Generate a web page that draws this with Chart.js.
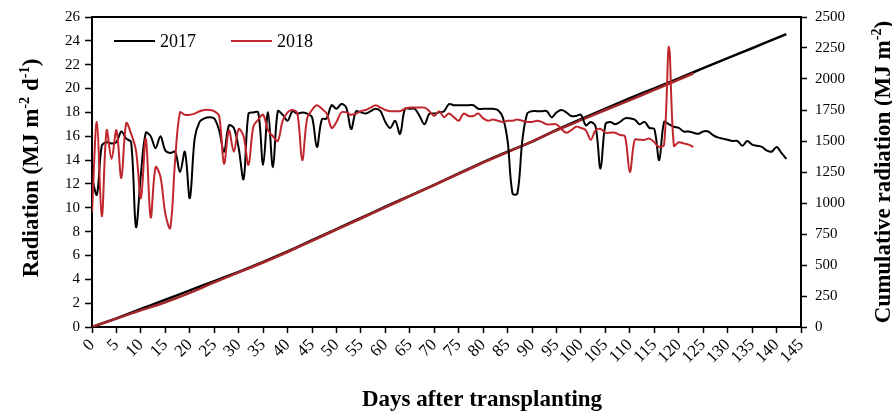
<!DOCTYPE html>
<html>
<head>
<meta charset="utf-8">
<script src="https://cdn.jsdelivr.net/npm/chart.js@4.4.1/dist/chart.umd.min.js"></script>
<style>
  html, body { margin: 0; padding: 0; background: #fff; }
</style>
</head>
<body>
<canvas id="myChart" width="892" height="411"></canvas>
<script>
// daily radiation (MJ m-2 d-1), one value per day after transplanting
const rad2017 = [
    12.5, 11.1, 15.2, 15.5, 15.4, 15.5, 16.4, 15.8, 15.5, 8.4,
    12.8, 16.3, 16.0, 15.0, 16.0, 14.8, 14.6, 14.7, 13.0, 14.7,
    10.8, 15.8, 17.2, 17.5, 17.6, 17.5, 16.5, 14.7, 16.9, 16.7,
    15.0, 12.4, 17.9, 18.0, 18.0, 13.6, 18.0, 13.4, 18.1, 17.8,
    17.3, 18.1, 17.9, 18.0, 17.9, 17.6, 15.1, 17.4, 17.5, 18.6,
    18.3, 18.7, 18.4, 16.6, 18.1, 18.0, 17.9, 18.1, 18.3, 18.1,
    17.2, 16.7, 17.3, 16.2, 18.3, 18.3, 18.3, 17.7, 17.0, 17.9,
    17.9, 18.0, 18.1, 18.7, 18.6, 18.6, 18.6, 18.6, 18.6, 18.3,
    18.3, 18.3, 18.3, 18.2, 17.6, 15.6, 11.2, 11.2, 15.6, 17.9,
    18.1, 18.1, 18.1, 18.1, 17.6, 18.0, 18.2, 18.0, 17.7, 17.7,
    17.8, 16.9, 17.2, 16.8, 13.3, 17.0, 17.2, 17.0, 17.2, 17.5,
    17.5, 17.4, 17.0, 17.2, 16.7, 16.6, 14.0, 17.2, 17.0, 16.8,
    16.7, 16.4, 16.4, 16.3, 16.2, 16.4, 16.4, 16.1, 15.9, 15.8,
    15.7, 15.6, 15.6, 15.2, 15.6, 15.3, 15.2, 15.1, 14.8, 14.7,
    15.1, 14.6, 14.1
];
const rad2018 = [
    9.6, 17.2, 9.3, 16.5, 14.1, 16.5, 12.5, 17.1, 16.2, 14.8,
    10.8, 15.8, 9.2, 13.4, 12.6, 9.5, 8.3, 14.0, 18.0, 17.8,
    17.8, 17.9, 18.1, 18.2, 18.2, 18.1, 17.7, 13.7, 16.5, 14.7,
    16.6, 16.0, 13.6, 16.8, 17.4, 17.8, 16.5, 16.0, 15.6, 17.3,
    18.0, 18.2, 17.9, 14.0, 17.5, 18.2, 18.6, 18.3, 17.9, 16.7,
    17.2, 18.0, 18.0, 17.8, 17.9, 18.1, 18.2, 18.4, 18.6, 18.4,
    18.2, 18.1, 18.1, 18.1, 18.3, 18.4, 18.4, 18.4, 18.4, 18.1,
    17.7, 18.1, 17.6, 17.9, 17.6, 17.3, 17.9, 17.7, 17.7, 17.9,
    17.5, 17.3, 17.4, 17.3, 17.2, 17.3, 17.3, 17.4, 17.3, 17.2,
    17.2, 17.3, 17.2, 17.0, 17.0, 17.0, 16.6, 16.3, 16.5, 16.8,
    16.7, 16.5, 15.7, 16.5, 16.6, 16.3, 16.3, 16.3, 16.1, 16.0,
    13.0, 15.7, 15.7, 15.7, 15.8, 15.5, 15.1, 15.3, 23.5, 15.2,
    15.5, 15.4, 15.3, 15.1
];

// cumulative radiation (MJ m-2), read at these days
const cumDays2017 = [0, 5, 10, 15, 20, 25, 30, 35, 40, 45, 50, 55, 60, 65, 70, 75, 80, 85, 90, 95, 100, 105, 110, 115, 120, 125, 130, 135, 140, 142];
const cum2017 = [0, 70, 145, 220, 295, 370, 445, 525, 610, 700, 790, 880, 970, 1058, 1147, 1238, 1330, 1415, 1495, 1590, 1677, 1760, 1845, 1925, 2005, 2088, 2168, 2248, 2330, 2362];
const cumDays2018 = [0, 5, 10, 15, 20, 25, 30, 35, 40, 45, 50, 55, 60, 65, 70, 75, 80, 85, 90, 95, 100, 105, 110, 115, 120, 123];
const cum2018 = [0, 68, 135, 200, 275, 360, 440, 520, 605, 695, 785, 875, 965, 1055, 1145, 1235, 1325, 1410, 1495, 1585, 1668, 1750, 1830, 1912, 1995, 2045];

const dayTicks = [0, 5, 10, 15, 20, 25, 30, 35, 40, 45, 50, 55, 60, 65, 70, 75, 80, 85, 90, 95, 100, 105, 110, 115, 120, 125, 130, 135, 140, 145];
const radTicks = [0, 2, 4, 6, 8, 10, 12, 14, 16, 18, 20, 22, 24, 26];
const cumTicks = [0, 250, 500, 750, 1000, 1250, 1500, 1750, 2000, 2250, 2500];

const SERIF = "'Liberation Serif', 'Times New Roman', serif";
const RED = '#c0272d';
const BLACK = '#000000';

function drawParts(ctx, parts, size, cx, baseY) {
    let w = 0;
    parts.forEach(p => {
        ctx.font = 'bold ' + (p.sup ? size * 0.62 : size) + 'px ' + SERIF;
        p.w = ctx.measureText(p.t).width;
        w += p.w;
    });
    let x = cx - w / 2;
    parts.forEach(p => {
        ctx.font = 'bold ' + (p.sup ? size * 0.62 : size) + 'px ' + SERIF;
        ctx.fillText(p.t, x, p.sup ? baseY - size * 0.4 : baseY);
        x += p.w;
    });
}

const extras = {
    id: 'extras',
    afterDraw(chart) {
        const ctx = chart.ctx;
        const a = chart.chartArea;
        ctx.save();
        // top frame line
        ctx.strokeStyle = BLACK;
        ctx.lineWidth = 2;
        ctx.beginPath();
        ctx.moveTo(a.left, a.top);
        ctx.lineTo(a.right, a.top);
        ctx.stroke();

        // legend
        ctx.lineWidth = 2;
        ctx.strokeStyle = BLACK;
        ctx.beginPath(); ctx.moveTo(114, 41); ctx.lineTo(155, 41); ctx.stroke();
        ctx.strokeStyle = RED;
        ctx.beginPath(); ctx.moveTo(231, 41); ctx.lineTo(272, 41); ctx.stroke();
        ctx.fillStyle = BLACK;
        ctx.font = '18px ' + SERIF;
        ctx.textBaseline = 'alphabetic';
        ctx.textAlign = 'left';
        ctx.fillText('2017', 160, 47);
        ctx.fillText('2018', 277, 47);

        // axis titles
        drawParts(ctx, [{t: 'Days after transplanting'}], 23, 482, 406);

        ctx.save();
        ctx.translate(38, 168);
        ctx.rotate(-Math.PI / 2);
        drawParts(ctx, [{t: 'Radiation (MJ m'}, {t: '-2', sup: true}, {t: ' d'}, {t: '-1', sup: true}, {t: ')'}], 23, 0, 0);
        ctx.restore();

        ctx.save();
        ctx.translate(890, 172);
        ctx.rotate(-Math.PI / 2);
        drawParts(ctx, [{t: 'Cumulative radiation (MJ m'}, {t: '-2', sup: true}, {t: ')'}], 23, 0, 0);
        ctx.restore();

        ctx.restore();
    }
};

const tickFont = { family: SERIF, size: 15 };
const plain = v => String(v);

new Chart(document.getElementById('myChart'), {
    type: 'line',
    data: {
        datasets: [
            {
                label: '2018',
                data: rad2018.map((v, i) => ({ x: i, y: v })),
                borderColor: RED,
                borderWidth: 2,
                yAxisID: 'y',
                order: 1
            },
            {
                label: '2017',
                data: rad2017.map((v, i) => ({ x: i, y: v })),
                borderColor: BLACK,
                borderWidth: 2,
                yAxisID: 'y',
                order: 2
            },
            {
                label: '2018 cumulative',
                data: cumDays2018.map((d, i) => ({ x: d, y: cum2018[i] })),
                borderColor: '#a3262a',
                borderWidth: 2.5,
                yAxisID: 'y1',
                tension: 0.2,
                order: 3
            },
            {
                label: '2017 cumulative',
                data: cumDays2017.map((d, i) => ({ x: d, y: cum2017[i] })),
                borderColor: BLACK,
                borderWidth: 2.5,
                yAxisID: 'y1',
                tension: 0.2,
                order: 4
            }
        ]
    },
    options: {
        responsive: false,
        animation: false,
        layout: { padding: { top: 16, left: 0, right: 0, bottom: 0 } },
        elements: {
            point: { radius: 0 },
            line: { tension: 0.35 }
        },
        plugins: {
            legend: { display: false },
            tooltip: { enabled: false }
        },
        scales: {
            x: {
                type: 'linear',
                min: 0,
                max: 145,
                afterBuildTicks: s => { s.ticks = dayTicks.map(v => ({ value: v })); },
                afterFit: s => { s.height = 84; },
                ticks: { autoSkip: false, minRotation: 45, maxRotation: 45, color: BLACK, font: { family: SERIF, size: 17 }, padding: 2, callback: plain },
                grid: { drawOnChartArea: false, tickLength: 6, tickColor: BLACK, tickWidth: 1.5 },
                border: { color: BLACK, width: 2 }
            },
            y: {
                position: 'left',
                min: 0,
                max: 26,
                afterBuildTicks: s => { s.ticks = radTicks.map(v => ({ value: v })); },
                afterFit: s => { s.width = 92; },
                ticks: { color: BLACK, font: tickFont, padding: 5, callback: plain },
                grid: { drawOnChartArea: false, tickLength: 7, tickColor: BLACK, tickWidth: 1.5 },
                border: { color: BLACK, width: 2 }
            },
            y1: {
                position: 'right',
                min: 0,
                max: 2500,
                afterBuildTicks: s => { s.ticks = cumTicks.map(v => ({ value: v })); },
                afterFit: s => { s.width = 91; },
                ticks: { color: BLACK, font: tickFont, padding: 8, callback: plain },
                grid: { drawOnChartArea: false, tickLength: 6, tickColor: BLACK, tickWidth: 1.5 },
                border: { color: BLACK, width: 2 }
            }
        }
    },
    plugins: [extras]
});
</script>
</body>
</html>
